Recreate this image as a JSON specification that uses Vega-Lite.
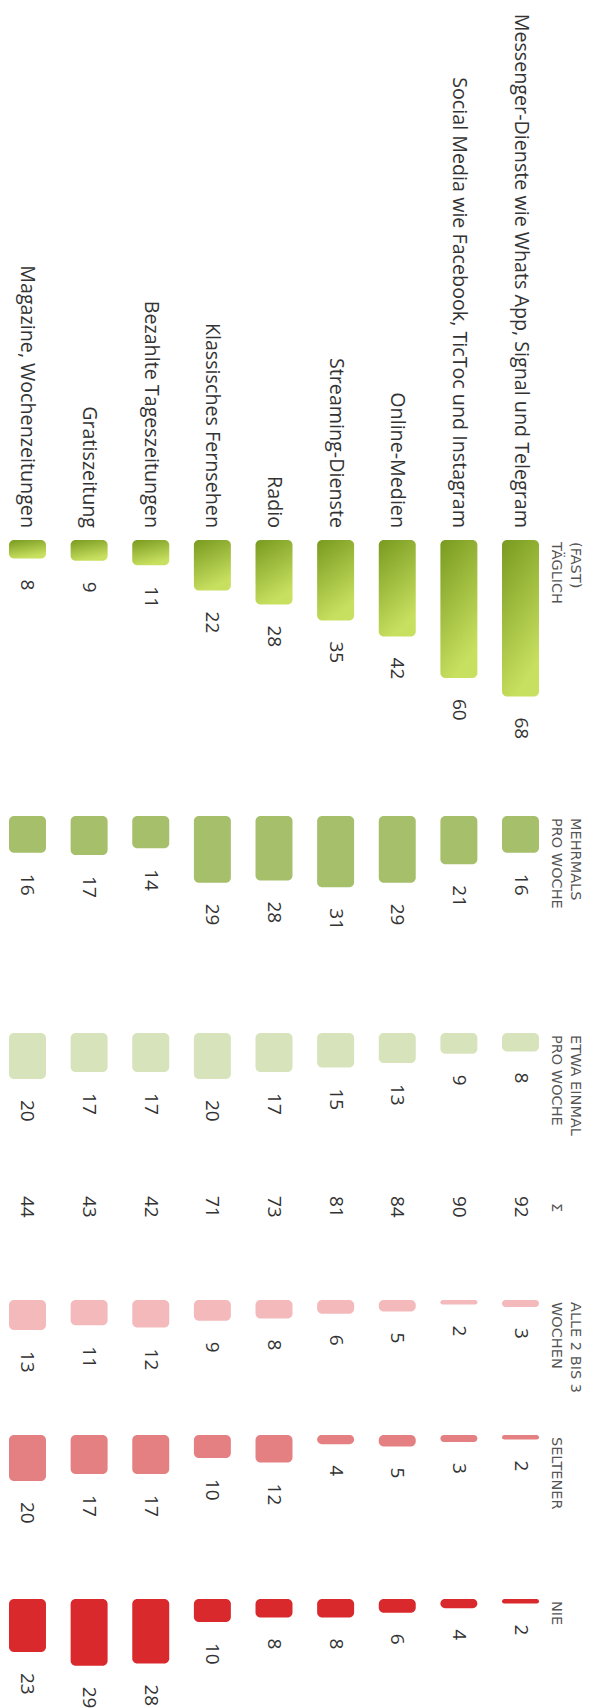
{
  "$schema": "https://vega.github.io/schema/vega-lite/v6.json",
  "padding": 0,
  "spacing": 0,
  "background": "white",
  "config": {"view": {"stroke": null}, "concat": {"spacing": 0}},
  "resolve": {"scale": {"x": "independent", "y": "independent"}},
  "datasets": {
    "usage": [
      {"medium": "Magazine, Wochenzeitungen", "freq": "taeglich", "value": 8},
      {"medium": "Gratiszeitung", "freq": "taeglich", "value": 9},
      {"medium": "Bezahlte Tageszeitungen", "freq": "taeglich", "value": 11},
      {"medium": "Klassisches Fernsehen", "freq": "taeglich", "value": 22},
      {"medium": "Radio", "freq": "taeglich", "value": 28},
      {"medium": "Streaming-Dienste", "freq": "taeglich", "value": 35},
      {"medium": "Online-Medien", "freq": "taeglich", "value": 42},
      {"medium": "Social Media wie Facebook, TicToc und Instagram", "freq": "taeglich", "value": 60},
      {"medium": "Messenger-Dienste wie Whats App, Signal und Telegram", "freq": "taeglich", "value": 68},
      {"medium": "Magazine, Wochenzeitungen", "freq": "mehrmals", "value": 16},
      {"medium": "Gratiszeitung", "freq": "mehrmals", "value": 17},
      {"medium": "Bezahlte Tageszeitungen", "freq": "mehrmals", "value": 14},
      {"medium": "Klassisches Fernsehen", "freq": "mehrmals", "value": 29},
      {"medium": "Radio", "freq": "mehrmals", "value": 28},
      {"medium": "Streaming-Dienste", "freq": "mehrmals", "value": 31},
      {"medium": "Online-Medien", "freq": "mehrmals", "value": 29},
      {"medium": "Social Media wie Facebook, TicToc und Instagram", "freq": "mehrmals", "value": 21},
      {"medium": "Messenger-Dienste wie Whats App, Signal und Telegram", "freq": "mehrmals", "value": 16},
      {"medium": "Magazine, Wochenzeitungen", "freq": "einmal", "value": 20},
      {"medium": "Gratiszeitung", "freq": "einmal", "value": 17},
      {"medium": "Bezahlte Tageszeitungen", "freq": "einmal", "value": 17},
      {"medium": "Klassisches Fernsehen", "freq": "einmal", "value": 20},
      {"medium": "Radio", "freq": "einmal", "value": 17},
      {"medium": "Streaming-Dienste", "freq": "einmal", "value": 15},
      {"medium": "Online-Medien", "freq": "einmal", "value": 13},
      {"medium": "Social Media wie Facebook, TicToc und Instagram", "freq": "einmal", "value": 9},
      {"medium": "Messenger-Dienste wie Whats App, Signal und Telegram", "freq": "einmal", "value": 8},
      {"medium": "Magazine, Wochenzeitungen", "freq": "wochen", "value": 13},
      {"medium": "Gratiszeitung", "freq": "wochen", "value": 11},
      {"medium": "Bezahlte Tageszeitungen", "freq": "wochen", "value": 12},
      {"medium": "Klassisches Fernsehen", "freq": "wochen", "value": 9},
      {"medium": "Radio", "freq": "wochen", "value": 8},
      {"medium": "Streaming-Dienste", "freq": "wochen", "value": 6},
      {"medium": "Online-Medien", "freq": "wochen", "value": 5},
      {"medium": "Social Media wie Facebook, TicToc und Instagram", "freq": "wochen", "value": 2},
      {"medium": "Messenger-Dienste wie Whats App, Signal und Telegram", "freq": "wochen", "value": 3},
      {"medium": "Magazine, Wochenzeitungen", "freq": "seltener", "value": 20},
      {"medium": "Gratiszeitung", "freq": "seltener", "value": 17},
      {"medium": "Bezahlte Tageszeitungen", "freq": "seltener", "value": 17},
      {"medium": "Klassisches Fernsehen", "freq": "seltener", "value": 10},
      {"medium": "Radio", "freq": "seltener", "value": 12},
      {"medium": "Streaming-Dienste", "freq": "seltener", "value": 4},
      {"medium": "Online-Medien", "freq": "seltener", "value": 5},
      {"medium": "Social Media wie Facebook, TicToc und Instagram", "freq": "seltener", "value": 3},
      {"medium": "Messenger-Dienste wie Whats App, Signal und Telegram", "freq": "seltener", "value": 2},
      {"medium": "Magazine, Wochenzeitungen", "freq": "nie", "value": 23},
      {"medium": "Gratiszeitung", "freq": "nie", "value": 29},
      {"medium": "Bezahlte Tageszeitungen", "freq": "nie", "value": 28},
      {"medium": "Klassisches Fernsehen", "freq": "nie", "value": 10},
      {"medium": "Radio", "freq": "nie", "value": 8},
      {"medium": "Streaming-Dienste", "freq": "nie", "value": 8},
      {"medium": "Online-Medien", "freq": "nie", "value": 6},
      {"medium": "Social Media wie Facebook, TicToc und Instagram", "freq": "nie", "value": 4},
      {"medium": "Messenger-Dienste wie Whats App, Signal und Telegram", "freq": "nie", "value": 2}
    ],
    "sums": [
      {"medium": "Magazine, Wochenzeitungen", "sum": 44},
      {"medium": "Gratiszeitung", "sum": 43},
      {"medium": "Bezahlte Tageszeitungen", "sum": 42},
      {"medium": "Klassisches Fernsehen", "sum": 71},
      {"medium": "Radio", "sum": 73},
      {"medium": "Streaming-Dienste", "sum": 81},
      {"medium": "Online-Medien", "sum": 84},
      {"medium": "Social Media wie Facebook, TicToc und Instagram", "sum": 90},
      {"medium": "Messenger-Dienste wie Whats App, Signal und Telegram", "sum": 92}
    ],
    "headers": [
      {"freq": "taeglich", "line1": "(FAST)", "line2": "TÄGLICH"},
      {"freq": "mehrmals", "line1": "MEHRMALS", "line2": "PRO WOCHE"},
      {"freq": "einmal", "line1": "ETWA EINMAL", "line2": "PRO WOCHE"},
      {"freq": "summe", "line1": "", "line2": "Σ"},
      {"freq": "wochen", "line1": "ALLE 2 BIS 3", "line2": "WOCHEN"},
      {"freq": "seltener", "line1": "", "line2": "SELTENER"},
      {"freq": "nie", "line1": "", "line2": "NIE"}
    ]
  },
  "vconcat": [
    {
      "width": 592, "height": 816,
      "encoding": {"x": {"field": "medium", "type": "nominal", "axis": null, "scale": {"type": "band", "domain": ["Magazine, Wochenzeitungen", "Gratiszeitung", "Bezahlte Tageszeitungen", "Klassisches Fernsehen", "Radio", "Streaming-Dienste", "Online-Medien", "Social Media wie Facebook, TicToc und Instagram", "Messenger-Dienste wie Whats App, Signal und Telegram"], "range": [9, 539], "paddingInner": 0.4, "paddingOuter": 0}}},
      "layer": [
        {"data": {"name": "usage"}, "transform": [{"filter": "datum.freq === 'taeglich'"}],
         "mark": {"type": "bar", "cornerRadius": 5, "fill": {"gradient": "linear", "x1": 0, "y1": 0, "x2": 0.35, "y2": 1, "stops": [{"offset": 0, "color": "#789a1f"}, {"offset": 1, "color": "#c8e060"}]}},
         "encoding": {"y": {"field": "value", "type": "quantitative", "axis": null, "scale": {"domain": [0, 100], "range": [540, 770], "nice": false}}, "y2": {"datum": 0}}},
        {"data": {"name": "usage"}, "transform": [{"filter": "datum.freq === 'taeglich'"}],
         "mark": {"type": "text", "angle": 90, "align": "left", "baseline": "middle", "dx": 21, "font": "Open Sans", "fontSize": 19, "fill": "#333333"},
         "encoding": {"y": {"field": "value", "type": "quantitative"}, "text": {"field": "value", "type": "quantitative"}}},
        {"data": {"name": "usage"}, "transform": [{"filter": "datum.freq === 'taeglich'"}],
         "mark": {"type": "text", "angle": 90, "align": "right", "baseline": "middle", "dx": -12, "font": "Open Sans", "fontSize": 19.7, "fill": "#333333"},
         "encoding": {"y": {"datum": 0}, "text": {"field": "medium", "type": "nominal"}}},
        {"data": {"name": "headers"}, "transform": [{"filter": "datum.freq === 'taeglich'"}],
         "mark": {"type": "text", "angle": 90, "align": "left", "baseline": "bottom", "dx": 2, "dy": -29, "font": "DejaVu Sans", "fontSize": 14.5, "fill": "#555555"},
         "encoding": {"x": {"datum": "Messenger-Dienste wie Whats App, Signal und Telegram", "bandPosition": 1}, "y": {"datum": 0}, "text": {"field": "line1", "type": "nominal"}}},
        {"data": {"name": "headers"}, "transform": [{"filter": "datum.freq === 'taeglich'"}],
         "mark": {"type": "text", "angle": 90, "align": "left", "baseline": "bottom", "dx": 2, "dy": -10, "font": "DejaVu Sans", "fontSize": 14.5, "fill": "#555555"},
         "encoding": {"x": {"datum": "Messenger-Dienste wie Whats App, Signal und Telegram", "bandPosition": 1}, "y": {"datum": 0}, "text": {"field": "line2", "type": "nominal"}}}
      ]
    },
    {
      "width": 592, "height": 217,
      "encoding": {"x": {"field": "medium", "type": "nominal", "axis": null, "scale": {"type": "band", "domain": ["Magazine, Wochenzeitungen", "Gratiszeitung", "Bezahlte Tageszeitungen", "Klassisches Fernsehen", "Radio", "Streaming-Dienste", "Online-Medien", "Social Media wie Facebook, TicToc und Instagram", "Messenger-Dienste wie Whats App, Signal und Telegram"], "range": [9, 539], "paddingInner": 0.4, "paddingOuter": 0}}},
      "layer": [
        {"data": {"name": "usage"}, "transform": [{"filter": "datum.freq === 'mehrmals'"}],
         "mark": {"type": "bar", "cornerRadius": 5, "fill": "#a6bf6b"},
         "encoding": {"y": {"field": "value", "type": "quantitative", "axis": null, "scale": {"domain": [0, 100], "range": [0, 230], "nice": false}}, "y2": {"datum": 0}}},
        {"data": {"name": "usage"}, "transform": [{"filter": "datum.freq === 'mehrmals'"}],
         "mark": {"type": "text", "angle": 90, "align": "left", "baseline": "middle", "dx": 21, "font": "Open Sans", "fontSize": 19, "fill": "#333333"},
         "encoding": {"y": {"field": "value", "type": "quantitative"}, "text": {"field": "value", "type": "quantitative"}}},
        {"data": {"name": "headers"}, "transform": [{"filter": "datum.freq === 'mehrmals'"}],
         "mark": {"type": "text", "angle": 90, "align": "left", "baseline": "bottom", "dx": 2, "dy": -29, "font": "DejaVu Sans", "fontSize": 14.5, "fill": "#555555"},
         "encoding": {"x": {"datum": "Messenger-Dienste wie Whats App, Signal und Telegram", "bandPosition": 1}, "y": {"datum": 0}, "text": {"field": "line1", "type": "nominal"}}},
        {"data": {"name": "headers"}, "transform": [{"filter": "datum.freq === 'mehrmals'"}],
         "mark": {"type": "text", "angle": 90, "align": "left", "baseline": "bottom", "dx": 2, "dy": -10, "font": "DejaVu Sans", "fontSize": 14.5, "fill": "#555555"},
         "encoding": {"x": {"datum": "Messenger-Dienste wie Whats App, Signal und Telegram", "bandPosition": 1}, "y": {"datum": 0}, "text": {"field": "line2", "type": "nominal"}}}
      ]
    },
    {
      "width": 592, "height": 163,
      "encoding": {"x": {"field": "medium", "type": "nominal", "axis": null, "scale": {"type": "band", "domain": ["Magazine, Wochenzeitungen", "Gratiszeitung", "Bezahlte Tageszeitungen", "Klassisches Fernsehen", "Radio", "Streaming-Dienste", "Online-Medien", "Social Media wie Facebook, TicToc und Instagram", "Messenger-Dienste wie Whats App, Signal und Telegram"], "range": [9, 539], "paddingInner": 0.4, "paddingOuter": 0}}},
      "layer": [
        {"data": {"name": "usage"}, "transform": [{"filter": "datum.freq === 'einmal'"}],
         "mark": {"type": "bar", "cornerRadius": 5, "fill": "#d7e3ba"},
         "encoding": {"y": {"field": "value", "type": "quantitative", "axis": null, "scale": {"domain": [0, 100], "range": [0, 230], "nice": false}}, "y2": {"datum": 0}}},
        {"data": {"name": "usage"}, "transform": [{"filter": "datum.freq === 'einmal'"}],
         "mark": {"type": "text", "angle": 90, "align": "left", "baseline": "middle", "dx": 21, "font": "Open Sans", "fontSize": 19, "fill": "#333333"},
         "encoding": {"y": {"field": "value", "type": "quantitative"}, "text": {"field": "value", "type": "quantitative"}}},
        {"data": {"name": "headers"}, "transform": [{"filter": "datum.freq === 'einmal'"}],
         "mark": {"type": "text", "angle": 90, "align": "left", "baseline": "bottom", "dx": 2, "dy": -29, "font": "DejaVu Sans", "fontSize": 14.5, "fill": "#555555"},
         "encoding": {"x": {"datum": "Messenger-Dienste wie Whats App, Signal und Telegram", "bandPosition": 1}, "y": {"datum": 0}, "text": {"field": "line1", "type": "nominal"}}},
        {"data": {"name": "headers"}, "transform": [{"filter": "datum.freq === 'einmal'"}],
         "mark": {"type": "text", "angle": 90, "align": "left", "baseline": "bottom", "dx": 2, "dy": -10, "font": "DejaVu Sans", "fontSize": 14.5, "fill": "#555555"},
         "encoding": {"x": {"datum": "Messenger-Dienste wie Whats App, Signal und Telegram", "bandPosition": 1}, "y": {"datum": 0}, "text": {"field": "line2", "type": "nominal"}}}
      ]
    },
    {
      "width": 592, "height": 104,
      "encoding": {"x": {"field": "medium", "type": "nominal", "axis": null, "scale": {"type": "band", "domain": ["Magazine, Wochenzeitungen", "Gratiszeitung", "Bezahlte Tageszeitungen", "Klassisches Fernsehen", "Radio", "Streaming-Dienste", "Online-Medien", "Social Media wie Facebook, TicToc und Instagram", "Messenger-Dienste wie Whats App, Signal und Telegram"], "range": [9, 539], "paddingInner": 0.4, "paddingOuter": 0}}},
      "layer": [
        {"data": {"name": "sums"},
         "mark": {"type": "text", "angle": 90, "align": "left", "baseline": "middle", "font": "Open Sans", "fontSize": 19, "fill": "#333333"},
         "encoding": {"x": {"field": "medium", "type": "nominal", "bandPosition": 0.5}, "y": {"datum": 0, "type": "quantitative", "axis": null, "scale": {"domain": [0, 100], "range": [0, 230], "nice": false}}, "text": {"field": "sum", "type": "quantitative"}}},
        {"data": {"name": "headers"}, "transform": [{"filter": "datum.freq === 'summe'"}],
         "mark": {"type": "text", "angle": 90, "align": "left", "baseline": "bottom", "dx": 7, "dy": -10, "font": "DejaVu Sans", "fontSize": 14.5, "fill": "#555555"},
         "encoding": {"x": {"datum": "Messenger-Dienste wie Whats App, Signal und Telegram", "bandPosition": 1}, "y": {"datum": 0}, "text": {"field": "line2", "type": "nominal"}}}
      ]
    },
    {
      "width": 592, "height": 135,
      "encoding": {"x": {"field": "medium", "type": "nominal", "axis": null, "scale": {"type": "band", "domain": ["Magazine, Wochenzeitungen", "Gratiszeitung", "Bezahlte Tageszeitungen", "Klassisches Fernsehen", "Radio", "Streaming-Dienste", "Online-Medien", "Social Media wie Facebook, TicToc und Instagram", "Messenger-Dienste wie Whats App, Signal und Telegram"], "range": [9, 539], "paddingInner": 0.4, "paddingOuter": 0}}},
      "layer": [
        {"data": {"name": "usage"}, "transform": [{"filter": "datum.freq === 'wochen'"}],
         "mark": {"type": "bar", "cornerRadius": 5, "fill": "#f4babb"},
         "encoding": {"y": {"field": "value", "type": "quantitative", "axis": null, "scale": {"domain": [0, 100], "range": [0, 230], "nice": false}}, "y2": {"datum": 0}}},
        {"data": {"name": "usage"}, "transform": [{"filter": "datum.freq === 'wochen'"}],
         "mark": {"type": "text", "angle": 90, "align": "left", "baseline": "middle", "dx": 21, "font": "Open Sans", "fontSize": 19, "fill": "#333333"},
         "encoding": {"y": {"field": "value", "type": "quantitative"}, "text": {"field": "value", "type": "quantitative"}}},
        {"data": {"name": "headers"}, "transform": [{"filter": "datum.freq === 'wochen'"}],
         "mark": {"type": "text", "angle": 90, "align": "left", "baseline": "bottom", "dx": 2, "dy": -29, "font": "DejaVu Sans", "fontSize": 14.5, "fill": "#555555"},
         "encoding": {"x": {"datum": "Messenger-Dienste wie Whats App, Signal und Telegram", "bandPosition": 1}, "y": {"datum": 0}, "text": {"field": "line1", "type": "nominal"}}},
        {"data": {"name": "headers"}, "transform": [{"filter": "datum.freq === 'wochen'"}],
         "mark": {"type": "text", "angle": 90, "align": "left", "baseline": "bottom", "dx": 2, "dy": -10, "font": "DejaVu Sans", "fontSize": 14.5, "fill": "#555555"},
         "encoding": {"x": {"datum": "Messenger-Dienste wie Whats App, Signal und Telegram", "bandPosition": 1}, "y": {"datum": 0}, "text": {"field": "line2", "type": "nominal"}}}
      ]
    },
    {
      "width": 592, "height": 164,
      "encoding": {"x": {"field": "medium", "type": "nominal", "axis": null, "scale": {"type": "band", "domain": ["Magazine, Wochenzeitungen", "Gratiszeitung", "Bezahlte Tageszeitungen", "Klassisches Fernsehen", "Radio", "Streaming-Dienste", "Online-Medien", "Social Media wie Facebook, TicToc und Instagram", "Messenger-Dienste wie Whats App, Signal und Telegram"], "range": [9, 539], "paddingInner": 0.4, "paddingOuter": 0}}},
      "layer": [
        {"data": {"name": "usage"}, "transform": [{"filter": "datum.freq === 'seltener'"}],
         "mark": {"type": "bar", "cornerRadius": 5, "fill": "#e48082"},
         "encoding": {"y": {"field": "value", "type": "quantitative", "axis": null, "scale": {"domain": [0, 100], "range": [0, 230], "nice": false}}, "y2": {"datum": 0}}},
        {"data": {"name": "usage"}, "transform": [{"filter": "datum.freq === 'seltener'"}],
         "mark": {"type": "text", "angle": 90, "align": "left", "baseline": "middle", "dx": 21, "font": "Open Sans", "fontSize": 19, "fill": "#333333"},
         "encoding": {"y": {"field": "value", "type": "quantitative"}, "text": {"field": "value", "type": "quantitative"}}},
        {"data": {"name": "headers"}, "transform": [{"filter": "datum.freq === 'seltener'"}],
         "mark": {"type": "text", "angle": 90, "align": "left", "baseline": "bottom", "dx": 2, "dy": -10, "font": "DejaVu Sans", "fontSize": 14.5, "fill": "#555555"},
         "encoding": {"x": {"datum": "Messenger-Dienste wie Whats App, Signal und Telegram", "bandPosition": 1}, "y": {"datum": 0}, "text": {"field": "line2", "type": "nominal"}}}
      ]
    },
    {
      "width": 592, "height": 109,
      "encoding": {"x": {"field": "medium", "type": "nominal", "axis": null, "scale": {"type": "band", "domain": ["Magazine, Wochenzeitungen", "Gratiszeitung", "Bezahlte Tageszeitungen", "Klassisches Fernsehen", "Radio", "Streaming-Dienste", "Online-Medien", "Social Media wie Facebook, TicToc und Instagram", "Messenger-Dienste wie Whats App, Signal und Telegram"], "range": [9, 539], "paddingInner": 0.4, "paddingOuter": 0}}},
      "layer": [
        {"data": {"name": "usage"}, "transform": [{"filter": "datum.freq === 'nie'"}],
         "mark": {"type": "bar", "cornerRadius": 5, "fill": "#d9292d"},
         "encoding": {"y": {"field": "value", "type": "quantitative", "axis": null, "scale": {"domain": [0, 100], "range": [0, 230], "nice": false}}, "y2": {"datum": 0}}},
        {"data": {"name": "usage"}, "transform": [{"filter": "datum.freq === 'nie'"}],
         "mark": {"type": "text", "angle": 90, "align": "left", "baseline": "middle", "dx": 21, "font": "Open Sans", "fontSize": 19, "fill": "#333333"},
         "encoding": {"y": {"field": "value", "type": "quantitative"}, "text": {"field": "value", "type": "quantitative"}}},
        {"data": {"name": "headers"}, "transform": [{"filter": "datum.freq === 'nie'"}],
         "mark": {"type": "text", "angle": 90, "align": "left", "baseline": "bottom", "dx": 2, "dy": -10, "font": "DejaVu Sans", "fontSize": 14.5, "fill": "#555555"},
         "encoding": {"x": {"datum": "Messenger-Dienste wie Whats App, Signal und Telegram", "bandPosition": 1}, "y": {"datum": 0}, "text": {"field": "line2", "type": "nominal"}}}
      ]
    }
  ]
}
